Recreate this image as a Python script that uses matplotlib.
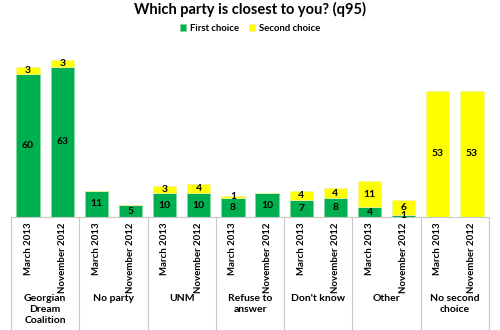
import numpy as np
import matplotlib.pyplot as plt
import matplotlib.transforms as mtransforms

CATEGORIES = ["Georgian\nDream\nCoalition", "No party", "UNM", "Refuse to\nanswer",
              "Don't know", "Other", "No second\nchoice"]
PERIODS = ["March 2013", "November 2012"]
FIRST_CHOICE = [60, 63, 11, 5, 10, 10, 8, 10, 7, 8, 4, 1, 0, 0]
SECOND_CHOICE = [3, 3, 0, 0, 3, 4, 1, 0, 4, 4, 11, 6, 53, 53]

GREEN = "#00B050"
YELLOW = "#FFFF00"

plt.rcParams["font.family"] = ["Lato", "DejaVu Sans"]

fig = plt.figure(figsize=(5, 3.3), dpi=100)
ax = fig.add_axes([0.022, 0.3424, 0.956, 0.5061])

x = np.arange(len(FIRST_CHOICE))
first = np.array(FIRST_CHOICE)
second = np.array(SECOND_CHOICE)

b1 = ax.bar(x, first, width=0.68, color=GREEN, edgecolor="#7fd8a0", linewidth=0.6,
            label="First choice")
b2 = ax.bar(x, second, width=0.68, bottom=first, color=YELLOW, edgecolor="#f5f59a",
            linewidth=0.6, label="Second choice")

# value labels in the middle of each segment
for xi, f, s in zip(x, first, second):
    if f > 0:
        ax.text(xi, f / 2, str(f), ha="center", va="center", fontsize=7.5,
                fontweight="bold", color="black")
    if s > 0:
        ax.text(xi, f + s / 2, str(s), ha="center", va="center", fontsize=7.5,
                fontweight="bold", color="black")

ax.set_xlim(-0.5, len(x) - 0.5)
ax.set_ylim(0, 70)
ax.set_yticks([])
ax.set_xticks([])
for side in ["left", "right", "top"]:
    ax.spines[side].set_visible(False)
ax.spines["bottom"].set_color("#c8c8c8")

# rotated period labels under each bar
for xi in x:
    ax.text(xi, -0.03, PERIODS[xi % 2], rotation=90, ha="center", va="top",
            fontsize=6.9, fontweight="bold", transform=ax.get_xaxis_transform())

# category labels and group dividers
trans = mtransforms.blended_transform_factory(ax.transData, ax.transAxes)
for i, cat in enumerate(CATEGORIES):
    ax.text(2 * i + 0.5, -0.46, cat, ha="center", va="top", fontsize=7.5,
            fontweight="bold", transform=trans, linespacing=1.3)
for b in np.arange(-0.5, len(x), 2):
    ax.plot([b, b], [0, -0.7], color="#c8c8c8", linewidth=0.8,
            transform=trans, clip_on=False)

fig.text(0.5, 0.972, "Which party is closest to you? (q95)", ha="center", va="center",
         fontsize=10.5, fontweight="bold")
fig.legend(handles=[b1, b2], loc="center", bbox_to_anchor=(0.5, 0.915), ncol=2,
           frameon=False, handlelength=0.7, handleheight=0.7,
           handletextpad=0.4, columnspacing=1.0, prop={"weight": "bold", "size": 6.8})

fig.savefig("out.png", dpi=100)
